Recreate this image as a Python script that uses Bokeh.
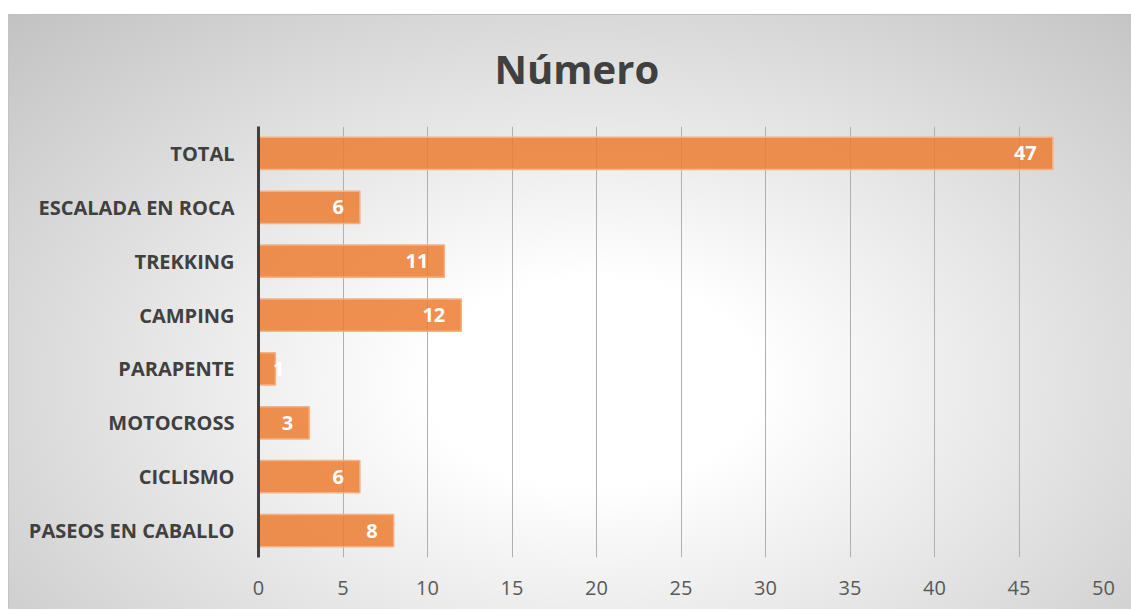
from bokeh.plotting import figure
from bokeh.models import ColumnDataSource, FactorRange, Range1d, SingleIntervalTicker, InlineStyleSheet, Title
from bokeh.embed import file_html
from bokeh.resources import INLINE
from bokeh.core.properties import value

# ---- data (listed bottom to top, as drawn) ----
categories = ["PASEOS EN CABALLO", "CICLISMO", "MOTOCROSS", "PARAPENTE",
              "CAMPING", "TREKKING", "ESCALADA EN ROCA", "TOTAL"]
numbers = [8, 6, 3, 1, 12, 11, 6, 47]
title_text = "Número"
x_max = 50
x_step = 5

FONT = "Open Sans"
W, H = 1131, 611
ML, MR, MT, MB = 258, 28, 126, 54
frame_w = W - ML - MR
px_per_unit = frame_w / x_max

# label offsets: inside end, clamped near the axis for very short bars
offsets = [max(-16.0, 26.0 - v * px_per_unit) for v in numbers]

src = ColumnDataSource(dict(cat=categories, val=numbers,
                            lbl=[str(v) for v in numbers], off=offsets))

css = InlineStyleSheet(css="""
:host {
  background:
    linear-gradient(#bfbfbf, #bfbfbf) 8px 14px / 100% 1px no-repeat,
    linear-gradient(#c4c4c4, #c4c4c4) 8px 14px / 1px 595px no-repeat,
    radial-gradient(ellipse farthest-corner at 52% 62%, #ffffff 0%, #ffffff 20%, #c2c2c2 100%) 8px 14px / 1123px 595px no-repeat,
    #ffffff;
}
""")

p = figure(width=W, height=H, y_range=FactorRange(factors=categories, range_padding=0),
           x_range=Range1d(0, x_max), output_backend="svg", toolbar_location=None,
           min_border_left=ML, min_border_right=MR, min_border_top=MT, min_border_bottom=MB,
           stylesheets=[css])
p.background_fill_color = None
p.border_fill_color = None
p.outline_line_color = None

p.title = Title(text=title_text, align="left", offset=236, standoff=61,
                text_font=FONT, text_font_size="40px", text_font_style="bold",
                text_color="#404040")

p.hbar(y="cat", right="val", left=0, height=0.6, source=src,
       fill_color="#ED7D31", fill_alpha=0.85, line_color="#F4B183", line_width=1.5)

p.text(x="val", y="cat", text="lbl", source=src, x_offset="off",
       text_align="right", text_baseline="middle", text_color="white",
       text_font=value(FONT), text_font_size="20px", text_font_style="bold")

# axes
p.xaxis.ticker = SingleIntervalTicker(interval=x_step)
p.xaxis.axis_line_color = None
p.xaxis.major_tick_line_color = None
p.xaxis.minor_tick_line_color = None
p.xaxis.major_label_standoff = 17
p.xaxis.major_label_text_font = FONT
p.xaxis.major_label_text_font_size = "20px"
p.xaxis.major_label_text_color = "#595959"

p.yaxis.axis_line_color = "#404040"
p.yaxis.axis_line_width = 3
p.yaxis.major_tick_line_color = None
p.yaxis.minor_tick_line_color = None
p.yaxis.major_label_standoff = 18
p.yaxis.major_label_text_font = FONT
p.yaxis.major_label_text_font_size = "20px"
p.yaxis.major_label_text_font_style = "bold"
p.yaxis.major_label_text_color = "#404040"

p.xgrid.grid_line_color = "#b0b0b0"
p.xgrid.grid_line_width = 1
p.ygrid.grid_line_color = None

open("out.html", "w").write(file_html(p, INLINE))
